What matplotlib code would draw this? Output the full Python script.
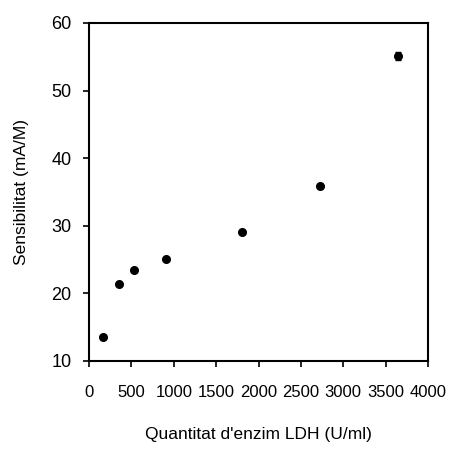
import numpy as np
import matplotlib.pyplot as plt

# enzyme amount vs sensitivity
ldh_units = [169, 358, 535, 905, 1809, 2726, 3642]
sensitivity = [13.6, 21.4, 23.45, 25.1, 29.1, 35.9, 55.1]
errors = [0.2, 0.3, 0.3, 0.2, 0.3, 0.3, 0.6]

plt.rcParams['font.family'] = ['Liberation Sans', 'DejaVu Sans']

fig = plt.figure(figsize=(4.5, 4.49), dpi=100)
ax = fig.add_axes([0.198, 0.196, 0.753, 0.753])
ax.errorbar(ldh_units, sensitivity, yerr=errors, fmt='o', color='black',
            markersize=5.5, capsize=2, elinewidth=1)
ax.set_xlim(0, 4000)
ax.set_ylim(10, 60)
ax.set_xticks(np.arange(0, 4001, 500))
ax.set_yticks(np.arange(10, 61, 10))
ax.tick_params(direction='out', length=4, width=1.2, labelsize=12, colors='black')
ax.tick_params(axis='y', labelsize=13, pad=8.5)
ax.tick_params(axis='x', pad=13)
for s in ax.spines.values():
    s.set_linewidth(1.5)
ax.set_xlabel("Quantitat d'enzim LDH (U/ml)", fontsize=12.5, labelpad=20)
ax.set_ylabel('Sensibilitat (mA/M)', fontsize=12.5, labelpad=16)
fig.savefig('out.png', dpi=100)
